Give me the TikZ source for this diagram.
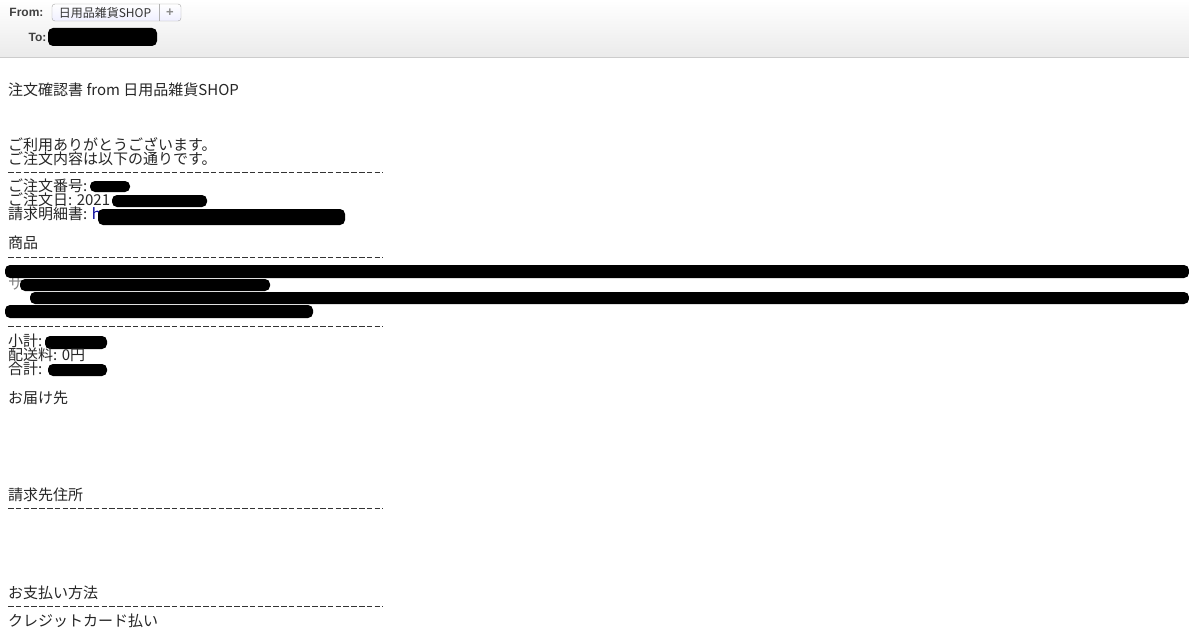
\documentclass[tikz,border=0pt]{standalone}
\usepackage{fontspec}
\newfontfamily\jp{Noto Sans CJK JP}
\newfontfamily\hd{Liberation Sans}
\begin{document}
\begin{tikzpicture}[x=1pt,y=-1pt,
  body/.style={anchor=west,inner sep=0pt,font=\jp\fontsize{15}{15}\selectfont,text=black!85},
  sep/.style={draw=black!80,dash pattern=on 5.5pt off 2.3pt,line width=0.8pt},
  blob/.style={fill=black,rounded corners=5pt}]
\useasboundingbox (0,0) rectangle (1189,642);
\fill[white] (0,0) rectangle (1189,642);
\shade[top color=white,bottom color=black!8] (0,0) rectangle (1189,57);
\draw[black!20] (0,57.5) -- (1189,57.5);
\node[anchor=east,font=\hd\bfseries\fontsize{12}{12}\selectfont,text=black!75] (from) at (47,12) {From:};
\draw[rounded corners=3pt,draw=black!35,top color=white,bottom color=blue!6] (52,4) rectangle (181,21);
\draw[black!30] (159.5,4) -- (159.5,21);
\node[font=\jp\fontsize{12}{12}\selectfont,text=black!80] (shop) at (105,12.5) {日用品雑貨SHOP};
\node[font=\hd\bfseries\fontsize{13}{13}\selectfont,text=black!45] (plus) at (170,12.5) {+};
\node[anchor=east,font=\hd\bfseries\fontsize{12}{12}\selectfont,text=black!75] (to) at (50,37) {To:};
\fill[blob] (48,28) rectangle (157,46);
% body
\node[body] (t1) at (8,90) {注文確認書 from 日用品雑貨SHOP};
\node[body] (t2) at (8,145) {ご利用ありがとうございます。};
\node[body] (t3) at (8,159) {ご注文内容は以下の通りです。};
\draw[sep] (8,172) -- (383,172);
\node[body] (t4) at (8,186) {ご注文番号:};
\fill[blob] (90,181) rectangle (130,192);
\node[body] (t5) at (8,200) {ご注文日: 2021};
\fill[blob] (112,195) rectangle (207,207);
\node[body] (t6) at (8,214) {請求明細書: \textcolor{blue!60!black}{h}};
\fill[blob] (98,209) rectangle (345,225);
\node[body] (t7) at (8,243) {商品};
\draw[sep] (8,257) -- (383,257);
\node[body,text=black!50] (p2) at (8,284) {サ};
\fill[blob] (5,265) rectangle (1189,278);
\fill[blob] (20,279) rectangle (270,291);
\fill[blob] (30,292) rectangle (1189,304);
\fill[blob] (5,305) rectangle (313,318);
\draw[sep] (8,326) -- (383,326);
\node[body] (t8) at (8,341) {小計:};
\fill[blob] (45,336) rectangle (107,349);
\node[body] (t9) at (8,355) {配送料: 0円};
\node[body] (t10) at (8,369) {合計:};
\fill[blob] (48,364) rectangle (107,376);
\node[body] (t11) at (8,398) {お届け先};
\node[body] (t12) at (8,495) {請求先住所};
\draw[sep] (8,508) -- (383,508);
\node[body] (t13) at (8,593) {お支払い方法};
\draw[sep] (8,606) -- (383,606);
\node[body] (t14) at (8,621) {クレジットカード払い};
\end{tikzpicture}
\end{document}
